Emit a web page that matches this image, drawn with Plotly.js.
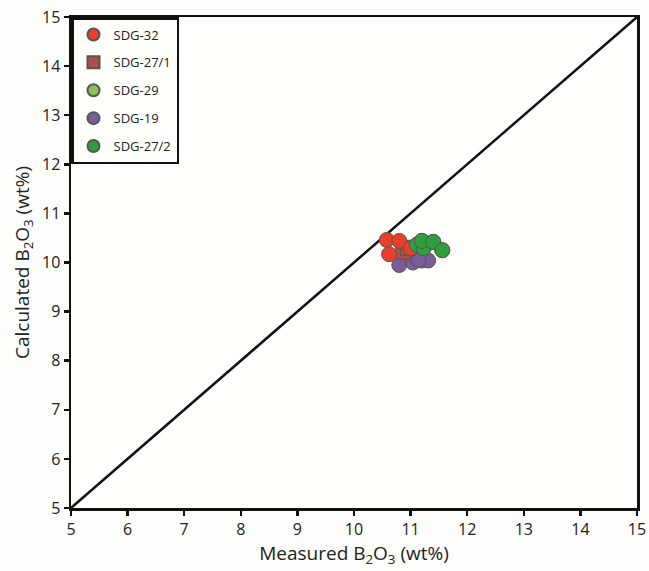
<!DOCTYPE html>
<html><head><meta charset="utf-8">
<script src="https://cdn.plot.ly/plotly-3.0.1.min.js"></script>
<style>body{margin:0;background:#fdfdfb}#p{width:649px;height:571px}</style>
</head><body><div id="p"></div>
<script>
const lineX = [5, 15];
const lineY = [5, 15];
const sdg32X = [10.58, 10.80, 10.62, 11.00];
const sdg32Y = [10.46, 10.44, 10.17, 10.29];
const sdg271X = [10.87, 10.95];
const sdg271Y = [10.22, 10.30];
const sdg29X = [11.10, 11.15];
const sdg29Y = [10.33, 10.38];
const sdg19X = [10.80, 11.04, 11.20, 11.31, 11.14];
const sdg19Y = [9.95, 10.00, 10.04, 10.04, 10.05];
const sdg272X = [11.11, 11.23, 11.20, 11.40, 11.56];
const sdg272Y = [10.36, 10.29, 10.44, 10.42, 10.25];

const FONT = 'Open Sans, Liberation Sans, Arial';
const mk = (color, symbol) => ({color: color, size: 15, symbol: symbol || 'circle', line: {color: '#555', width: 1}});
const traces = [
  {x: lineX, y: lineY, mode: 'lines', line: {color: '#111', width: 2.5}, showlegend: false, hoverinfo: 'skip'},
  {x: sdg272X, y: sdg272Y, mode: 'markers', name: 'SDG-27/2', marker: mk('#2e9e3e'), showlegend: false},
  {x: sdg19X, y: sdg19Y, mode: 'markers', name: 'SDG-19', marker: mk('#7b5c98'), showlegend: false},
  {x: sdg29X, y: sdg29Y, mode: 'markers', name: 'SDG-29', marker: mk('#92bf55'), showlegend: false},
  {x: sdg271X, y: sdg271Y, mode: 'markers', name: 'SDG-27/1', marker: mk('#b14e47', 'square'), showlegend: false},
  {x: sdg32X, y: sdg32Y, mode: 'markers', name: 'SDG-32', marker: mk('#e8402a'), showlegend: false},
  {x: sdg272X, y: sdg272Y, mode: 'markers', name: 'SDG-27/2', marker: mk('#2e9e3e'), showlegend: false}
];
const legendNames = ['SDG-32', 'SDG-27/1', 'SDG-29', 'SDG-19', 'SDG-27/2'];
const legendColors = ['#e8402a', '#b14e47', '#92bf55', '#7b5c98', '#2e9e3e'];
const legendSymbols = ['circle', 'square', 'circle', 'circle', 'circle'];
legendNames.forEach((n, i) => traces.push({x: [null], y: [null], mode: 'markers', name: n, legendgroup: 'g' + i,
  marker: {color: legendColors[i], size: 12, symbol: legendSymbols[i], line: {color: '#555', width: 1}}}));

const ticks = [5, 6, 7, 8, 9, 10, 11, 12, 13, 14, 15];
const axisBase = {range: [5, 15], tickvals: ticks, ticktext: ticks.map(String), ticks: 'outside', ticklen: 5, tickwidth: 2.5,
  tickcolor: '#111', showline: true, linecolor: '#111', linewidth: 2.5, mirror: true, showgrid: false, zeroline: false,
  tickfont: {family: FONT, size: 16, color: '#222'}};
const layout = {
  width: 649, height: 571,
  margin: {l: 71, r: 12, t: 17, b: 63},
  paper_bgcolor: '#fdfdfb', plot_bgcolor: '#fffffb',
  font: {family: FONT, color: '#222'},
  xaxis: Object.assign({}, axisBase, {title: {text: 'Measured B<sub>2</sub>O<sub>3</sub> (wt%)', font: {size: 19}, standoff: 4}}),
  yaxis: Object.assign({}, axisBase, {title: {text: 'Calculated B<sub>2</sub>O<sub>3</sub> (wt%)', font: {size: 19}, standoff: 8}}),
  legend: {x: 0, y: 1, xanchor: 'left', yanchor: 'top', bgcolor: '#fffffb', bordercolor: '#111', borderwidth: 2.5,
    font: {family: FONT, size: 13, color: '#222'}, itemsizing: 'constant', tracegroupgap: 8,
    traceorder: 'grouped', entrywidth: 90, itemwidth: 30},
  showlegend: true
};
Plotly.newPlot('p', traces, layout, {displayModeBar: false, staticPlot: true});
</script></body></html>
